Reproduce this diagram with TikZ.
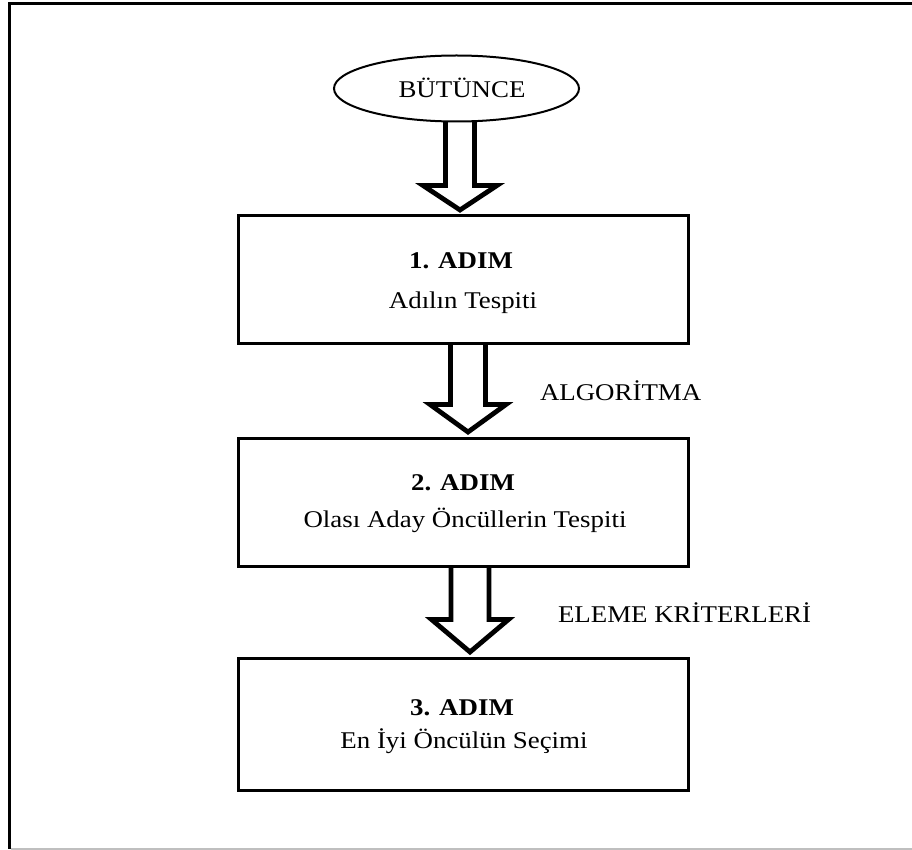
\documentclass[tikz,border=0pt]{standalone}
\usepackage{fontspec}
\setmainfont{Liberation Serif}[FakeStretch=1.12]
\usetikzlibrary{shapes.geometric,calc}

% hollow block arrow: #1 source anchor, #2 target anchor, #3 axis x,
% #4 shaft half-width, #5 head half-width, #6 head length, #7 tip gap
\newcommand\blockarrow[7]{%
  \draw[barrow] let \p1=(#1), \p2=(#2) in
    (#3pt-#4pt,\y1) -- (#3pt-#4pt,\y2+#6pt) -- (#3pt-#5pt,\y2+#6pt)
    -- (#3pt,\y2+#7pt) -- (#3pt+#5pt,\y2+#6pt) -- (#3pt+#4pt,\y2+#6pt)
    -- (#3pt+#4pt,\y1);}

\tikzset{
  stepbox/.style={draw, line width=3pt, minimum width=450pt, inner sep=0pt, outer sep=0pt},
  barrow/.style={draw, line width=4.8pt, line join=miter, miter limit=10},
  txt/.style={inner sep=0pt, outer sep=0pt, anchor=base, font=\fontsize{24}{28}\selectfont},
  sidetxt/.style={txt, anchor=base west},
}

\begin{document}
\begin{tikzpicture}[x=1pt,y=-1pt]
\useasboundingbox (0,0) rectangle (912,850);

% frame
\draw[line width=3pt] (912,3.5) -- (9.5,3.5) -- (9.5,849);
\draw[line width=1.5pt, black!25] (11,849.2) -- (912,849.2);

% source ellipse
\node[ellipse, draw, line width=2pt, minimum width=245pt, minimum height=66pt,
      inner sep=0pt, outer sep=0pt] (ell) at (456.5,88.5) {};
\node[txt] (tell) at (462,98) {BÜTÜNCE};

% steps
\node[stepbox, minimum height=128pt] (b1) at (463.5,279.5) {};
\node[stepbox, minimum height=128pt] (b2) at (463.5,502.5) {};
\node[stepbox, minimum height=132pt] (b3) at (463.5,724.5) {};

\node[txt] (h1) at (461,268) {\textbf{1. ADIM}};
\node[txt] (s1) at (463,308) {Adılın Tespiti};
\node[txt] (h2) at (463,490) {\textbf{2. ADIM}};
\node[txt] (s2) at (465,527) {Olası Aday Öncüllerin Tespiti};
\node[txt] (h3) at (462,715) {\textbf{3. ADIM}};
\node[txt] (s3) at (464,748) {En İyi Öncülün Seçimi};

% arrows between stages
\blockarrow{ell.south}{b1.north}{460}{14.5}{37}{30}{5.5}
\blockarrow{b1.south}{b2.north}{468}{17.5}{38}{34}{6.5}
\blockarrow{b2.south}{b3.north}{470}{19}{38.5}{39}{6.5}

% arrow labels
\node[sidetxt] (l1) at (540,400) {ALGORİTMA};
\node[sidetxt] (l2) at (558,622) {ELEME KRİTERLERİ};
\end{tikzpicture}
\end{document}
